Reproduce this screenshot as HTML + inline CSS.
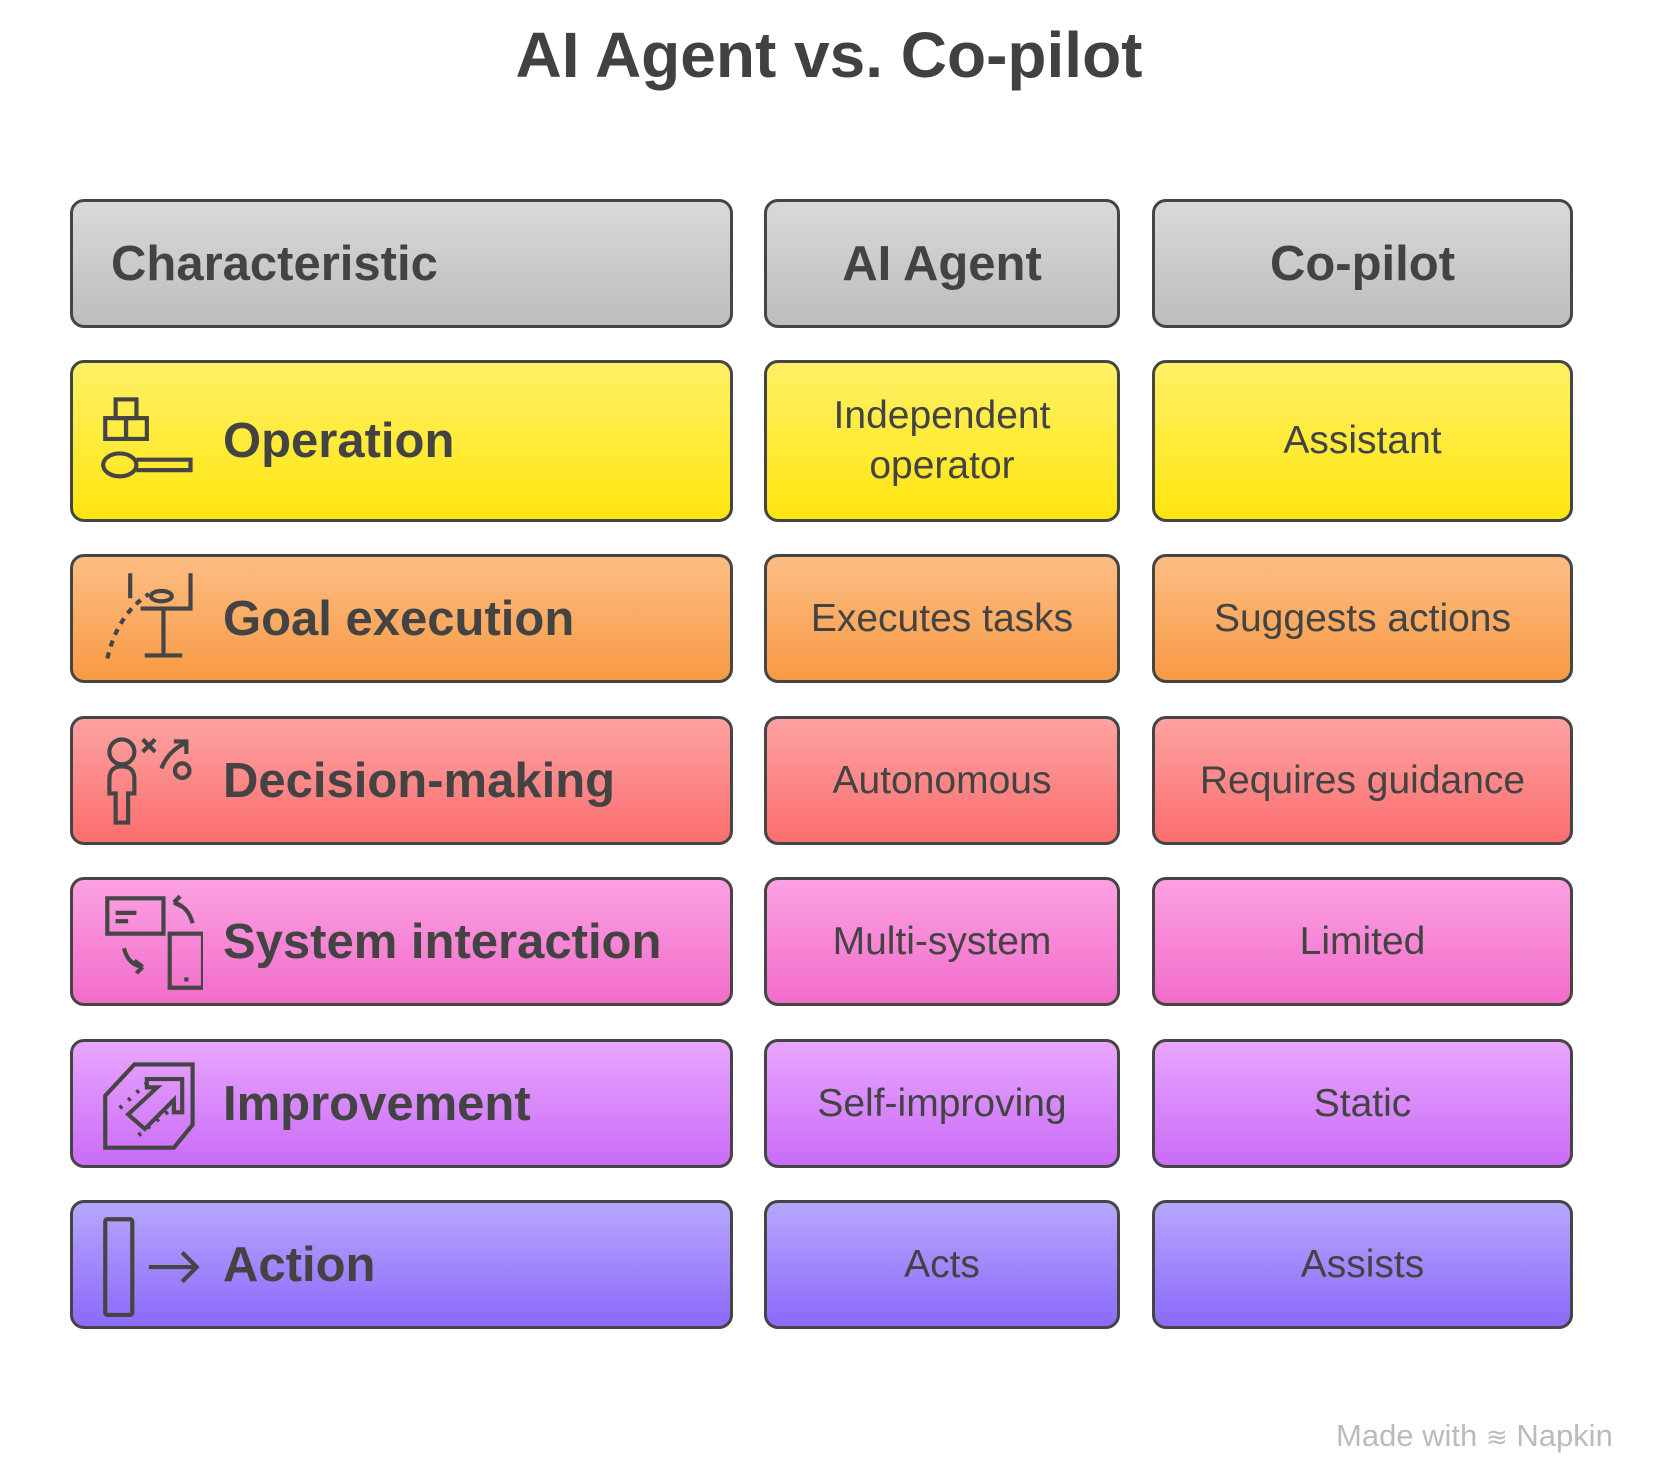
<!DOCTYPE html>
<html><head><meta charset="utf-8"><style>
body{margin:0;width:1658px;height:1482px;background:#fff;position:relative;font-family:"Liberation Sans",sans-serif;color:#434343;overflow:hidden}
.t{position:absolute;left:0;width:1658px;top:18px;text-align:center;font-size:64px;font-weight:bold;color:#414141}
.b{position:absolute;box-sizing:border-box;border:3px solid #454545;border-radius:14px;display:flex;align-items:center;justify-content:center;text-align:center;font-size:39px;line-height:50px}
.c1{left:70px;width:663px;justify-content:flex-start;padding-left:150px;font-weight:bold;font-size:49px}
.c2{left:764px;width:356px}
.c3{left:1152px;width:421px}
.h{font-weight:bold;font-size:49px}
.c1.h{padding-left:38px}
svg.i{position:absolute;left:26px;top:50%;margin-top:-52px;width:104px;height:104px;fill:none;stroke:#454545;stroke-width:4}
.wm{position:absolute;left:1336px;top:1418px;font-size:31px;color:#bbb}
</style></head><body>
<div class="t">AI Agent vs. Co-pilot</div>

<div class="b c1 h" style="top:199px;height:129px;background:linear-gradient(#d9d9d9,#bdbdbd)">Characteristic</div>
<div class="b c2 h" style="top:199px;height:129px;background:linear-gradient(#d9d9d9,#bdbdbd)">AI Agent</div>
<div class="b c3 h" style="top:199px;height:129px;background:linear-gradient(#d9d9d9,#bdbdbd)">Co-pilot</div>

<div class="b c1" style="top:360px;height:162px;background:linear-gradient(#fff066,#ffe60e)"><svg class="i" viewBox="0 0 100 100"><rect x="16" y="10" width="20" height="18"/><rect x="6" y="28" width="20" height="20"/><rect x="26" y="28" width="20" height="20"/><ellipse cx="20" cy="73" rx="16" ry="11"/><path d="M36 68 H88 V78 H36"/></svg>Operation</div>
<div class="b c2" style="top:360px;height:162px;background:linear-gradient(#fff066,#ffe60e)">Independent<br>operator</div>
<div class="b c3" style="top:360px;height:162px;background:linear-gradient(#fff066,#ffe60e)">Assistant</div>

<div class="b c1" style="top:554px;height:129px;background:linear-gradient(#fdbd84,#f79a44)"><svg class="i" viewBox="0 0 100 100"><path d="M30 6 V30 M88 6 V40 H40 M62 40 V85 M44 85 H80"/><ellipse cx="60" cy="28" rx="10" ry="5"/><path d="M8 88 Q18 45 48 26" stroke-dasharray="6 6"/></svg>Goal execution</div>
<div class="b c2" style="top:554px;height:129px;background:linear-gradient(#fdbd84,#f79a44)">Executes tasks</div>
<div class="b c3" style="top:554px;height:129px;background:linear-gradient(#fdbd84,#f79a44)">Suggests actions</div>

<div class="b c1" style="top:716px;height:129px;background:linear-gradient(#fea2a2,#fb6e6e)"><svg class="i" viewBox="0 0 100 100"><circle cx="22" cy="22" r="12"/><path d="M10 62 V48 Q10 36 22 36 Q34 36 34 48 V62 H28 V90 H16 V62 Z"/><path d="M42 10 L54 22 M54 10 L42 22 M60 38 Q66 22 82 14 M72 12 H84 V24"/><circle cx="80" cy="40" r="7"/></svg>Decision-making</div>
<div class="b c2" style="top:716px;height:129px;background:linear-gradient(#fea2a2,#fb6e6e)">Autonomous</div>
<div class="b c3" style="top:716px;height:129px;background:linear-gradient(#fea2a2,#fb6e6e)">Requires guidance</div>

<div class="b c1" style="top:877px;height:129px;background:linear-gradient(#fca2e2,#f26cca)"><svg class="i" viewBox="0 0 100 100"><rect x="8" y="8" width="54" height="34"/><path d="M16 22 H36 M16 30 H28"/><rect x="68" y="42" width="32" height="52"/><path d="M82 86 h4"/><path d="M90 32 Q86 16 72 12 M72 12 l6 -6 M72 12 l8 4"/><path d="M24 56 Q28 72 42 74 M42 74 l-8 -6 M42 74 l-6 6"/></svg>System interaction</div>
<div class="b c2" style="top:877px;height:129px;background:linear-gradient(#fca2e2,#f26cca)">Multi-system</div>
<div class="b c3" style="top:877px;height:129px;background:linear-gradient(#fca2e2,#f26cca)">Limited</div>

<div class="b c1" style="top:1039px;height:129px;background:linear-gradient(#e8a6fd,#ca6cf8)"><svg class="i" viewBox="0 0 100 100"><path d="M6 42 L34 12 H90 V70 L72 92 H6 Z"/><path d="M28 60 L56 34 H46 V26 H80 V58 H72 V46 L44 74 Z"/><path d="M20 54 L46 30 M38 80 L68 56" stroke-dasharray="3 8"/></svg>Improvement</div>
<div class="b c2" style="top:1039px;height:129px;background:linear-gradient(#e8a6fd,#ca6cf8)">Self-improving</div>
<div class="b c3" style="top:1039px;height:129px;background:linear-gradient(#e8a6fd,#ca6cf8)">Static</div>

<div class="b c1" style="top:1200px;height:129px;background:linear-gradient(#b6a6fd,#8c6afa)"><svg class="i" viewBox="0 0 100 100"><rect x="6" y="6" width="26" height="92" rx="2"/><path d="M48 52 H94 M80 38 L94 52 L80 66"/></svg>Action</div>
<div class="b c2" style="top:1200px;height:129px;background:linear-gradient(#b6a6fd,#8c6afa)">Acts</div>
<div class="b c3" style="top:1200px;height:129px;background:linear-gradient(#b6a6fd,#8c6afa)">Assists</div>

<div class="wm">Made with <span style="font-size:26px">≋</span> Napkin</div>
</body></html>
